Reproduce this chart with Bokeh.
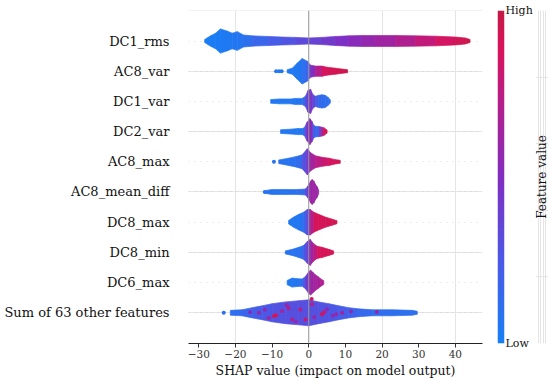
import math
import numpy as np
from bokeh.plotting import figure
from bokeh.layouts import row
from bokeh.models import Range1d, FixedTicker, LinearAxis, Span, Grid
from bokeh.core.properties import value
from bokeh.embed import file_html
from bokeh.resources import INLINE

# ---------------- data ----------------
features = ["DC1_rms", "AC8_var", "DC1_var", "DC2_var", "AC8_max",
            "AC8_mean_diff", "DC8_max", "DC8_min", "DC6_max",
            "Sum of 63 other features"]

x_ticks = [-30, -20, -10, 0, 10, 20, 30, 40]
x_tick_labels = ["\u221230", "\u221220", "\u221210", "0", "10", "20", "30", "40"]

# swarm outline of each feature: SHAP value, half-width of swarm (rows), mean feature value (0 low .. 1 high)
dc1_rms_x = [-28.4, -26.8, -25.4, -24.1, -22.3, -20.9, -19.5, -17.8, -15.4, -11.0, -7.3, -3.6,
             0.0, 3.6, 7.3, 10.9, 14.5, 18.2, 23.6, 29.1, 34.5, 40.0, 42.7, 44.0]
dc1_rms_w = [0.05, 0.17, 0.26, 0.40, 0.33, 0.26, 0.31, 0.20, 0.17, 0.15, 0.13, 0.12,
             0.10, 0.12, 0.15, 0.17, 0.18, 0.18, 0.18, 0.17, 0.16, 0.13, 0.10, 0.05]
dc1_rms_c = [0.02, 0.02, 0.02, 0.03, 0.04, 0.05, 0.06, 0.08, 0.12, 0.20, 0.25, 0.30,
             0.35, 0.40, 0.45, 0.50, 0.55, 0.60, 0.66, 0.74, 0.82, 0.90, 0.95, 0.98]

ac8_var_x = [-5.9, -4.5, -3.2, -1.8, -0.4, 0.5, 1.8, 3.6, 5.0, 7.3, 9.1, 10.6]
ac8_var_w = [0.05, 0.10, 0.26, 0.42, 0.33, 0.20, 0.17, 0.17, 0.13, 0.10, 0.07, 0.05]
ac8_var_c = [0.05, 0.05, 0.05, 0.06, 0.15, 0.40, 0.60, 0.85, 0.90, 0.92, 0.95, 0.97]

dc1_var_x = [-10.4, -8.0, -5.0, -3.6, -1.8, -0.9, -0.2, 0.5, 1.1, 1.8, 2.7, 3.6, 4.5, 5.3, 5.9]
dc1_var_w = [0.06, 0.08, 0.08, 0.10, 0.10, 0.17, 0.36, 0.40, 0.23, 0.17, 0.20, 0.22, 0.20, 0.13, 0.05]
dc1_var_c = [0.05, 0.05, 0.05, 0.05, 0.08, 0.20, 0.45, 0.50, 0.40, 0.30, 0.15, 0.12, 0.12, 0.10, 0.10]

dc2_var_x = [-7.7, -5.0, -3.0, -1.8, -1.2, -0.5, 0.3, 0.9, 1.4, 2.0, 2.7, 3.4, 4.1, 5.0]
dc2_var_w = [0.06, 0.08, 0.10, 0.10, 0.13, 0.30, 0.43, 0.33, 0.20, 0.17, 0.17, 0.15, 0.13, 0.05]
dc2_var_c = [0.05, 0.05, 0.05, 0.06, 0.10, 0.45, 0.60, 0.50, 0.20, 0.15, 0.15, 0.50, 0.90, 0.90]

ac8_max_x = [-8.2, -5.5, -3.6, -1.8, -0.4, 0.5, 1.8, 3.6, 5.5, 7.3, 8.6]
ac8_max_w = [0.06, 0.12, 0.17, 0.23, 0.43, 0.30, 0.20, 0.15, 0.12, 0.07, 0.05]
ac8_max_c = [0.08, 0.08, 0.10, 0.15, 0.45, 0.60, 0.70, 0.80, 0.85, 0.90, 0.95]

ac8_md_x = [-11.8, -10.0, -6.0, -3.0, -0.9, -0.2, 0.5, 0.9, 1.4, 1.8, 2.3, 2.7]
ac8_md_w = [0.05, 0.08, 0.08, 0.08, 0.10, 0.20, 0.36, 0.41, 0.36, 0.26, 0.17, 0.06]
ac8_md_c = [0.08, 0.08, 0.08, 0.10, 0.15, 0.50, 0.60, 0.62, 0.62, 0.62, 0.60, 0.60]

dc8_max_x = [-5.5, -4.1, -2.7, -1.4, -0.4, 0.4, 1.4, 2.7, 4.5, 6.4, 7.7]
dc8_max_w = [0.06, 0.17, 0.26, 0.33, 0.42, 0.42, 0.33, 0.26, 0.17, 0.10, 0.05]
dc8_max_c = [0.05, 0.05, 0.05, 0.08, 0.30, 0.55, 0.88, 0.90, 0.90, 0.92, 0.95]

dc8_min_x = [-6.4, -4.5, -2.7, -1.4, -0.4, 0.4, 1.2, 2.3, 3.6, 5.5, 6.8]
dc8_min_w = [0.05, 0.10, 0.17, 0.23, 0.36, 0.43, 0.30, 0.20, 0.17, 0.10, 0.05]
dc8_min_c = [0.08, 0.08, 0.08, 0.12, 0.40, 0.55, 0.65, 0.85, 0.90, 0.90, 0.90]

dc6_max_x = [-5.9, -4.5, -3.2, -1.8, -0.9, 0.0, 0.5, 1.2, 1.8, 2.5, 3.2, 4.1]
dc6_max_w = [0.07, 0.15, 0.13, 0.12, 0.20, 0.36, 0.41, 0.33, 0.26, 0.20, 0.13, 0.06]
dc6_max_c = [0.05, 0.05, 0.06, 0.10, 0.30, 0.55, 0.60, 0.62, 0.65, 0.65, 0.70, 0.70]

sum_x = [-21.4, -18.2, -15.4, -12.7, -10.0, -6.4, -2.7, 0.0, 2.7, 5.5, 8.2, 10.9, 13.6, 17.3, 22.7, 28.2, 29.6]
sum_w = [0.08, 0.10, 0.17, 0.23, 0.30, 0.36, 0.40, 0.43, 0.36, 0.30, 0.23, 0.17, 0.13, 0.10, 0.10, 0.08, 0.05]
sum_c = [0.10, 0.13, 0.20, 0.24, 0.27, 0.29, 0.30, 0.30, 0.29, 0.27, 0.24, 0.20, 0.16, 0.13, 0.10, 0.10, 0.10]

profiles = [
    (dc1_rms_x, dc1_rms_w, dc1_rms_c),
    (ac8_var_x, ac8_var_w, ac8_var_c),
    (dc1_var_x, dc1_var_w, dc1_var_c),
    (dc2_var_x, dc2_var_w, dc2_var_c),
    (ac8_max_x, ac8_max_w, ac8_max_c),
    (ac8_md_x, ac8_md_w, ac8_md_c),
    (dc8_max_x, dc8_max_w, dc8_max_c),
    (dc8_min_x, dc8_min_w, dc8_min_c),
    (dc6_max_x, dc6_max_w, dc6_max_c),
    (sum_x, sum_w, sum_c),
]

# isolated / speckle points: feature index, SHAP value, offset in row, feature value
iso_feature = [1, 1, 1, 4, 5, 9, 9, 9, 9, 9, 9, 9, 9, 9, 9, 9, 9, 9, 9, 9, 9, 9,
               9, 9, 9, 9, 9, 9, 9, 9]
iso_shap = [-8.9, -8.1, -7.4, -9.5, -12.0, -23.2, -9.5, -8.9, -4.5, -2.3, -0.9, 3.6, 4.2,
            0.9, -7.3, -13.6, 9.1, 18.6, -10.9, 0.8, -5.5, 6.5,
            -12.0, -6.0, -3.5, 1.5, 5.0, 7.5, -16.0, 11.5]
iso_dy = [0.0, 0.0, 0.0, 0.0, 0.0, 0.0, -0.11, -0.08, -0.22, 0.11, -0.22, -0.05, 0.02,
          0.28, 0.05, 0.0, 0.0, 0.03, -0.17, 0.46, 0.15, -0.10,
          0.10, 0.25, -0.30, -0.15, 0.12, -0.05, 0.02, 0.04]
iso_c = [0.05, 0.05, 0.05, 0.08, 0.08, 0.10, 0.92, 0.90, 0.70, 0.75, 0.80, 0.92, 0.80,
         0.70, 0.65, 0.60, 0.65, 0.60, 0.65, 0.88, 0.70, 0.55,
         0.55, 0.60, 0.55, 0.60, 0.55, 0.60, 0.50, 0.55]

colorbar_ticks = [0, 1]
colorbar_labels = ["Low", "High"]
colorbar_title = "Feature value"

# ---------------- colour map (SHAP red-blue) ----------------
cm_pos = [0.0, 0.25, 0.5, 0.75, 0.88, 1.0]
cm_rgb = [(22, 128, 244), (76, 88, 230), (130, 45, 192), (186, 28, 132), (216, 20, 92), (196, 25, 70)]


def cmap(v):
    v = min(max(v, 0.0), 1.0)
    for k in range(len(cm_pos) - 1):
        if v <= cm_pos[k + 1]:
            t = (v - cm_pos[k]) / (cm_pos[k + 1] - cm_pos[k])
            a, b = cm_rgb[k], cm_rgb[k + 1]
            return "#%02x%02x%02x" % tuple(int(round(a[j] + (b[j] - a[j]) * t)) for j in range(3))
    return "#%02x%02x%02x" % cm_rgb[-1]


palette = [cmap(i / 255.0) for i in range(256)]
FONT = "DejaVu Serif"
n = len(features)

# ---------------- main figure ----------------
p = figure(width=487, height=382, x_range=Range1d(-32.81, 47.4), y_range=Range1d(-1.017, 10.01),
           output_backend="svg", toolbar_location=None, x_axis_location=None, y_axis_location=None,
           min_border_left=188, min_border_right=5, min_border_top=10, min_border_bottom=39)
p.outline_line_color = None
p.background_fill_color = "white"

row_ticks = list(range(n))
yaxis = LinearAxis(ticker=FixedTicker(ticks=row_ticks),
                   major_label_overrides={n - 1 - i: name for i, name in enumerate(features)},
                   axis_line_color=None, major_tick_line_color=None, minor_tick_line_color=None,
                   major_tick_in=0, major_tick_out=0, major_label_standoff=19,
                   major_label_text_font=FONT, major_label_text_font_size="13px",
                   major_label_text_color="#111111")
p.add_layout(yaxis, "left")

xaxis = LinearAxis(ticker=FixedTicker(ticks=x_ticks),
                   major_label_overrides=dict(zip(x_ticks, x_tick_labels)),
                   axis_label="SHAP value (impact on model output)",
                   axis_label_text_font=FONT, axis_label_text_font_size="12.5px",
                   axis_label_text_font_style="normal", axis_label_text_color="#111111",
                   axis_label_standoff=2,
                   major_label_text_font=FONT, major_label_text_font_size="10.5px",
                   major_label_text_color="#333333", major_label_standoff=2,
                   major_tick_out=4, major_tick_in=0, minor_tick_line_color=None,
                   axis_line_color="#222222", major_tick_line_color="#333333")
p.add_layout(xaxis, "below")

p.add_layout(Grid(dimension=1, ticker=yaxis.ticker, grid_line_color="#cccccc",
                  grid_line_width=0.7, grid_line_dash="1 5"))

xs, ys, cols = [], [], []
for i, (px, pw, pc) in enumerate(profiles):
    r = n - 1 - i
    for k in range(len(px) - 1):
        xs.append([px[k], px[k + 1], px[k + 1], px[k]])
        ys.append([r - pw[k], r - pw[k + 1], r + pw[k + 1], r + pw[k]])
        cols.append(cmap(0.5 * (pc[k] + pc[k + 1])))
p.patches(xs, ys, fill_color=cols, line_color=cols, line_width=0.7)

p.scatter(iso_shap,
          [n - 1 - f + d for f, d in zip(iso_feature, iso_dy)],
          size=4, fill_color=[cmap(c) for c in iso_c], line_color=None)

p.add_layout(Span(location=0, dimension="height", line_color="#999999", line_width=1))

# ---------------- colour bar ----------------
p2 = figure(frame_width=7, frame_height=333, x_range=Range1d(0, 1), y_range=Range1d(0, 1),
            output_backend="svg", toolbar_location=None, x_axis_location=None, y_axis_location=None,
            min_border_left=10, min_border_right=0, min_border_top=10, min_border_bottom=39)
p2.outline_line_color = None
p2.image(image=[np.linspace(0, 1, 256).reshape(256, 1)], x=0, y=0, dw=1, dh=1, palette=palette)
cax = LinearAxis(ticker=FixedTicker(ticks=colorbar_ticks),
                 major_label_overrides=dict(zip(colorbar_ticks, colorbar_labels)),
                 axis_line_color=None, major_tick_line_color=None, minor_tick_line_color=None,
                 major_tick_in=0, major_tick_out=0, major_label_standoff=1,
                 major_label_text_font=FONT, major_label_text_font_size="11px",
                 major_label_text_color="#111111")
p2.add_layout(cax, "right")

# title of the colour bar, reading bottom to top
p3 = figure(width=13, height=382, x_range=Range1d(0, 1), y_range=Range1d(0, 1),
            output_backend="svg", toolbar_location=None, x_axis_location=None, y_axis_location=None,
            min_border_left=0, min_border_right=0, min_border_top=10, min_border_bottom=39)
p3.outline_line_color = None
p3.text(x=[0.5], y=[0.5], text=[colorbar_title], angle=math.pi / 2,
        text_align="center", text_baseline="middle",
        text_font=value(FONT), text_font_size="12px", text_color="#111111")

layout = row(p, p2, p3)
open("out.html", "w").write(file_html(layout, INLINE))
